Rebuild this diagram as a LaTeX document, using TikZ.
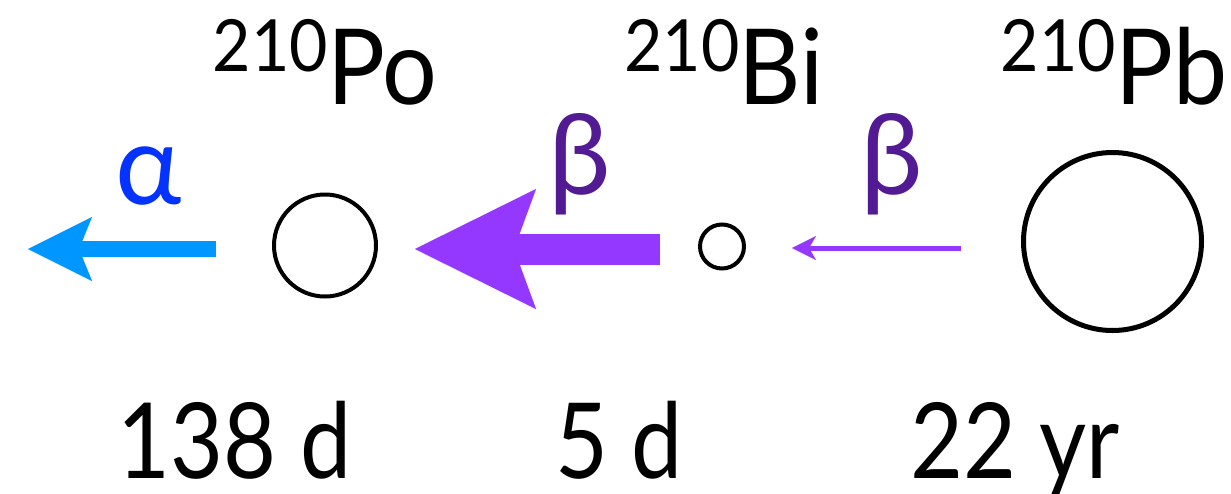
\documentclass[tikz,border=0pt]{standalone}
\usepackage{fontspec}
\setmainfont{Lato}
\newfontfamily\isofont[FakeStretch=0.92]{Lato}
\newfontfamily\halffont[FakeStretch=0.87]{Lato}
\usetikzlibrary{arrows.meta}
\definecolor{aqua}{HTML}{0096FF}
\definecolor{ablue}{HTML}{0433FF}
\definecolor{lav}{HTML}{9437FF}
\definecolor{grape}{HTML}{531B93}
\tikzset{
  nucl/.style={circle,draw=black,inner sep=0pt,outer sep=0pt},
  iso/.style={inner sep=0pt,anchor=base,font=\isofont\fontsize{105}{105}\selectfont},
  half/.style={inner sep=0pt,anchor=base,text depth=0pt,font=\halffont\fontsize{105}{105}\selectfont},
  glabel/.style={inner sep=0pt,font=\fontsize{112}{112}\selectfont},
  aarrow/.style={draw=aqua,line width=16pt,-{Stealth[length=64pt,width=64pt,inset=13pt,line width=0.01pt,fill=aqua]}},
  bigb/.style={draw=lav,line width=31pt,-{Stealth[length=121pt,width=120pt,inset=22pt,line width=0.01pt,fill=lav]}},
  smallb/.style={draw=lav,line width=5pt,-{Stealth[length=24pt,width=24pt,inset=7pt,line width=0.01pt,fill=lav]}}
}
\newcommand{\sups}[1]{\raisebox{33pt}{\fontsize{72}{72}\selectfont #1}}
\begin{document}
\begin{tikzpicture}[x=1pt,y=-1pt]
\useasboundingbox (0,0) rectangle (1231,493);
% nuclei
\node[nucl,line width=4pt,minimum size=102pt] (po) at (325,245.5) {};
\node[nucl,line width=4pt,minimum size=44pt] (bi) at (722,246.5) {};
\node[nucl,line width=5pt,minimum size=178pt] (pb) at (1112.5,241.5) {};
% isotope labels
\node[iso] (lpo) at (325,104) {\sups{210}\kern-1pt Po};
\node[iso] (lbi) at (724,104) {\sups{210}\kern-1pt Bi};
\node[iso] (lpb) at (1114,104) {\sups{210}\kern-1pt Pb};
% half-lives
\node[half] (tpo) at (234.5,478) {138 d};
\node[half] (tbi) at (619,478) {5 d};
\node[half] (tpb) at (1015,478) {22 yr};
% decay arrows
\coordinate (aend) at (28,249);
\coordinate (b1end) at (415,249);
\coordinate (b2end) at (792,248);
\draw[aarrow,shorten <=58pt] (po.west |- aend) -- (aend);
\draw[bigb,shorten <=40pt] (bi.west |- b1end) -- (b1end);
\draw[smallb,shorten <=63pt] (pb.west |- b2end) -- (b2end);
% particle labels
\node[glabel,text=ablue] (la) at (149,176) {α};
\node[glabel,text=grape] (lb1) at (580,164.5) {β};
\node[glabel,text=grape] (lb2) at (892,164.5) {β};
\end{tikzpicture}
\end{document}
